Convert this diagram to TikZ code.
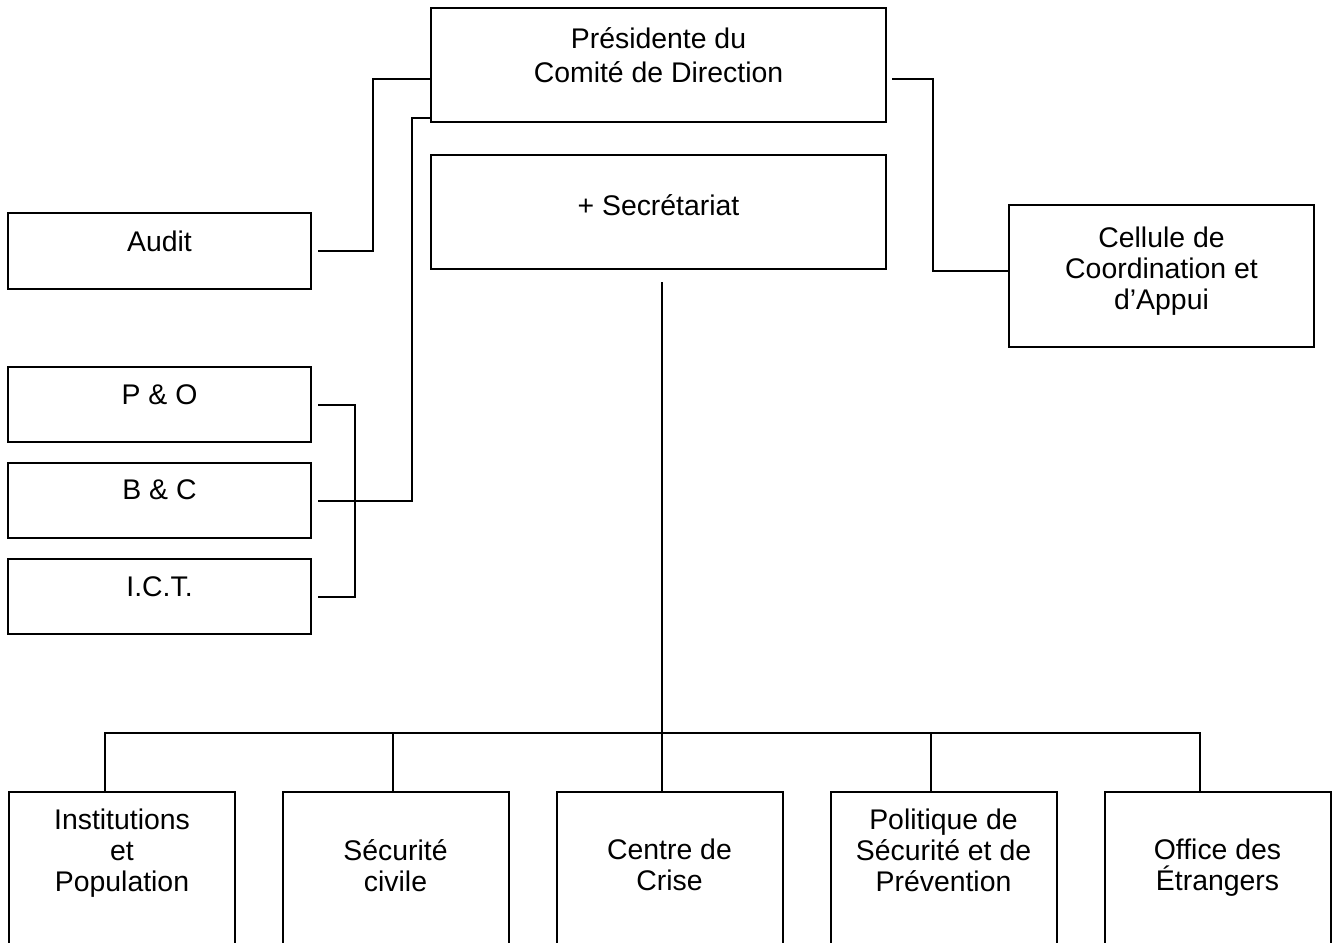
\documentclass[tikz,border=0pt]{standalone}
\usepackage{fontspec}
\setmainfont{Liberation Sans}
\usetikzlibrary{positioning}

\tikzset{
  unit/.style={draw, line width=1pt, inner sep=0pt},
  txt/.style={anchor=north, inner sep=0pt, align=center, font=\fontsize{14.2}{15.5}\selectfont},
  link/.style={line width=1pt},
}

\begin{document}
\begin{tikzpicture}[x=0.5pt,y=-0.5pt]
\useasboundingbox (0,0) rectangle (1337,942);
\clip (0,0) rectangle (1337,942);

% direction
\node[unit, minimum width=227.5pt, minimum height=57pt,
  label={[txt, yshift=-10pt, font=\fontsize{14.2}{17}\selectfont]north:{Présidente du\\Comité de Direction}}] (pres) at (658.5,65) {};
\node[unit, minimum width=227.5pt, minimum height=57pt,
  label={[txt, yshift=-20pt]north:{+ Secrétariat}}] (secr) at (658.5,212) {};

% staff services
\node[unit, minimum width=151.5pt, minimum height=38pt,
  label={[txt, yshift=-9.5pt]north:Audit}] (audit) at (159.5,251) {};
\node[unit, minimum width=151.5pt, minimum height=37.5pt,
  label={[txt, yshift=-9pt]north:{P \& O}}] (po) at (159.5,404.5) {};
\node[unit, minimum width=151.5pt, minimum height=37.5pt,
  label={[txt, yshift=-8.5pt]north:{B \& C}}] (bc) at (159.5,500.5) {};
\node[unit, minimum width=151.5pt, minimum height=37.5pt,
  label={[txt, yshift=-9pt]north:{I.C.T.}}] (ict) at (159.5,596.5) {};
\node[unit, minimum width=152.5pt, minimum height=71pt,
  label={[txt, yshift=-11.5pt]north:{Cellule de\\Coordination et\\d’Appui}}] (cell) at (1161.5,276) {};

% directions generales
\node[unit, minimum width=113pt, minimum height=100pt,
  label={[txt, yshift=-9pt]north:{Institutions\\et\\Population}}] (inst) at (122,892) {};
\node[unit, minimum width=113pt, minimum height=100pt,
  label={[txt, yshift=-24pt]north:{Sécurité\\civile}}] (secu) at (395.5,892) {};
\node[unit, minimum width=113pt, minimum height=100pt,
  label={[txt, yshift=-24pt]north:{Centre de\\Crise}}] (crise) at (669.5,892) {};
\node[unit, minimum width=113pt, minimum height=100pt,
  label={[txt, yshift=-9pt]north:{Politique de\\Sécurité et de\\Prévention}}] (prev) at (943.5,892) {};
\node[unit, minimum width=113pt, minimum height=100pt,
  label={[txt, yshift=-24pt]north:{Office des\\Étrangers}}] (off) at (1217.5,892) {};

% links
\draw[link] ([yshift=-7pt]pres.west) -- ++(-57,0) |- ([xshift=3pt]audit.east);
\draw[link] ([yshift=2.5pt]pres.south west) -- ++(-18,0) |- ([xshift=3pt]bc.east);
\draw[link] ([xshift=3pt]po.east) -- ++(37,0) |- ([xshift=3pt]ict.east);
\draw[link] ([xshift=2.5pt,yshift=-7pt]pres.east) -- ++(41,0) |- ([yshift=2.5pt]cell.west);
\draw[link] ([xshift=1.5pt,yshift=-6pt]secr.south) -- ([xshift=-4pt]crise.north);
\draw[link] ([xshift=-8.5pt]inst.north) -- ++(0,-58) -| ([xshift=-8.75pt]off.north);
\draw[link] ([xshift=-1.25pt]secu.north) -- ++(0,-58);
\draw[link] ([xshift=-6.25pt]prev.north) -- ++(0,-58);
\end{tikzpicture}
\end{document}
